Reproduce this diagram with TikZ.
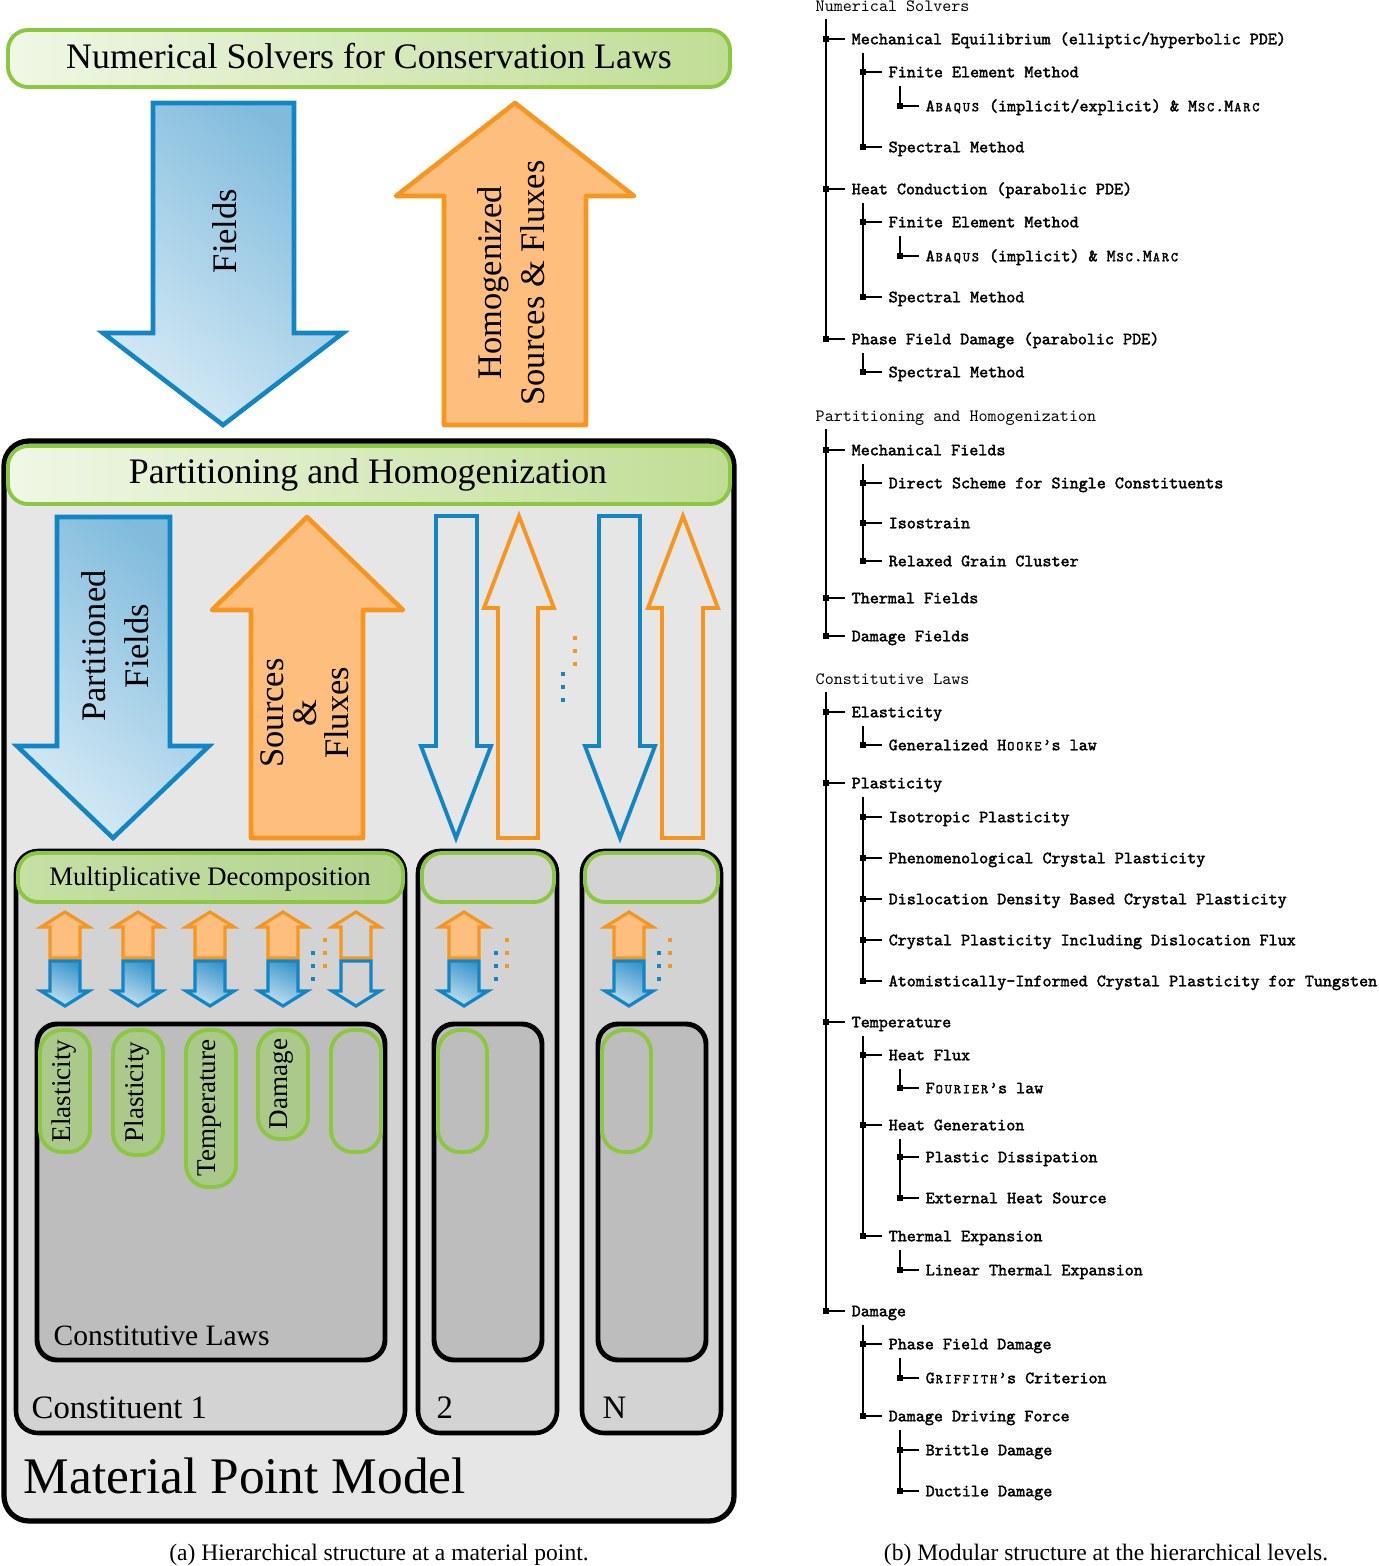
\documentclass[tikz,border=0pt]{standalone}
\usepackage{fontspec}
\setmainfont{Liberation Serif}
\newfontfamily\trbold{lmmono10-regular}[Extension=.otf, FakeBold=2]
\newfontfamily\trreg{lmmono10-regular}[Extension=.otf]
\usepackage{graphicx}
\definecolor{gline}{RGB}{141,198,63}
\definecolor{bnL}{RGB}{240,247,230}
\definecolor{bnR}{RGB}{192,221,148}
\definecolor{mdL}{RGB}{198,224,165}
\definecolor{mdR}{RGB}{178,211,140}
\definecolor{bline}{RGB}{18,134,196}
\definecolor{bD}{RGB}{128,187,220}
\definecolor{bL}{RGB}{212,233,245}
\definecolor{sbD}{RGB}{55,148,204}
\definecolor{sbL}{RGB}{196,225,240}
\definecolor{oline}{RGB}{247,150,30}
\definecolor{ofill}{RGB}{253,190,126}
\definecolor{gA}{RGB}{230,230,230}
\definecolor{gB}{RGB}{211,211,211}
\definecolor{gC}{RGB}{189,189,189}
\definecolor{pillc}{RGB}{170,201,138}
\newcommand\smc[1]{\makebox[0.525em]{\scalebox{0.78}{#1}}}
\newcommand\trit[4]{%
  \coordinate (#1-l) at (#2,#3);
  \coordinate (#1-d) at (#2+37,#3+14);
  \node[tritem] (#1) at (#2+19,#3) {#4};
  \draw[trline] (#1-l) -- (#1.west);
  \fill (#2-3,#3-3) rectangle (#2+3,#3+3);
}
\newcommand\trhead[3]{%
  \node[trhd] (#1) at (815,#2) {#3};
  \coordinate (#1-d) at (826,#2+13);
}
\newcommand\sarrows[3]{%
  \draw[sorange,#2] (#1,912) -- (#1+24,927) -- (#1+15,927) -- (#1+15,958) -- (#1-15,958) -- (#1-15,927) -- (#1-24,927) -- cycle;
  \draw[sblue,#3] (#1-15,961) -- (#1+15,961) -- (#1+15,991) -- (#1+24,991) -- (#1,1006) -- (#1-24,991) -- (#1-15,991) -- cycle;
}
\newcommand\dotcol[3]{\foreach \yy in {#3,#3+13,#3+26}{\fill[#1] (#2-2,\yy-2) rectangle (#2+2,\yy+2);}}
\tikzset{
  trline/.style={line width=0.5pt},
  tritem/.style={anchor=west, inner xsep=0.06cm, inner ysep=0pt, text height=3pt, text depth=0pt,
    font=\trbold\fontsize{4.9}{5.5}\selectfont},
  trhd/.style={anchor=west, inner sep=0pt, text height=3pt, text depth=0pt,
    font=\trreg\fontsize{4.9}{5.5}\selectfont},
  banner/.style={draw=gline, line width=1.1pt, rounded corners=0.2cm, left color=bnL, right color=bnR},
  mdbanner/.style={draw=gline, line width=1.1pt, rounded corners=0.2cm, left color=mdL, right color=mdR},
  ebanner/.style={draw=gline, line width=1.1pt, rounded corners=0.2cm},
  bigblue/.style={draw=bline, line width=1.3pt, line join=miter, top color=bD, bottom color=bL, shading angle=-40},
  bigorange/.style={draw=oline, line width=1.3pt, line join=round, fill=ofill},
  oblue/.style={draw=bline, line width=1.1pt},
  oorange/.style={draw=oline, line width=1.1pt},
  sorange/.style={draw=oline, line width=0.9pt},
  sblue/.style={draw=bline, line width=0.9pt},
  sofill/.style={fill=ofill},
  sbfill/.style={top color=sbD, bottom color=sbL, shading angle=-25},
  nofill/.style={},
  constbox/.style={draw=black, line width=1.3pt, fill=gB, rounded corners=0.22cm},
  lawbox/.style={draw=black, line width=1.4pt, fill=gC, rounded corners=0.2cm},
  pillbox/.style={draw=gline, line width=1.1pt, rounded corners=0.22cm},
  hdtxt/.style={font=\fontsize{10.2}{12}\selectfont, inner sep=0pt},
  arrtxt/.style={rotate=90, align=center, inner sep=0pt, font=\fontsize{9.8}{12.3}\selectfont},
  pilltxt/.style={rotate=90, inner sep=0pt, font=\fontsize{7.7}{9}\selectfont},
  captxt/.style={anchor=base, inner sep=0pt, font=\fontsize{6.7}{8}\selectfont}
}
\begin{document}
\begin{tikzpicture}[x=0.01cm, y=-0.01cm]
\useasboundingbox (0,0) rectangle (1378,1566);

% ---------- top level ----------
\draw[banner] (8,30) rectangle (730,87);
\node[hdtxt, anchor=base] (nsl) at (369,68) {Numerical Solvers for Conservation Laws};

\draw[bigblue] (153,103) -- (294,103) -- (294,333) -- (343,333) -- (223,425) -- (103,333) -- (153,333) -- cycle;
\node[arrtxt] (fld) at (225,231) {Fields};

\draw[bigorange] (515,103) -- (634,196) -- (586,196) -- (586,425) -- (444,425) -- (444,196) -- (396,196) -- cycle;
\node[arrtxt] (hsf) at (511,283) {Homogenized\\Sources \& Fluxes};

% ---------- material point ----------
\draw[draw=black, line width=1.5pt, fill=gA, rounded corners=0.25cm] (4,441) rectangle (734,1521);
\draw[banner] (8,446) rectangle (730,504);
\node[hdtxt, anchor=base] (pah) at (368,483) {Partitioning and Homogenization};

\draw[bigblue] (57,517) -- (170,517) -- (170,746) -- (209,746) -- (113,838) -- (17,746) -- (57,746) -- cycle;
\node[arrtxt] (pfl) at (115,646) {Partitioned\\Fields};

\draw[bigorange] (307,517) -- (403,610) -- (363,610) -- (363,838) -- (251,838) -- (251,610) -- (212,610) -- cycle;
\node[arrtxt, font=\fontsize{9.8}{9.3}\selectfont] (sfl) at (305,713) {Sources\\\&\\Fluxes};

% outline arrows
\draw[oblue] (436,516) -- (477,516) -- (477,746) -- (491,746) -- (456,838) -- (421,746) -- (436,746) -- cycle;
\draw[oorange] (519,516) -- (554,608) -- (538,608) -- (538,838) -- (498,838) -- (498,608) -- (484,608) -- cycle;
\draw[oblue] (599,516) -- (640,516) -- (640,746) -- (655,746) -- (620,838) -- (585,746) -- (599,746) -- cycle;
\draw[oorange] (683,516) -- (718,608) -- (703,608) -- (703,838) -- (662,838) -- (662,608) -- (648,608) -- cycle;
\dotcol{oline}{575}{638}
\dotcol{bline}{563}{674}

% ---------- constituents ----------
\draw[constbox] (16,851) rectangle (405,1433);
\draw[constbox] (418,851) rectangle (557,1433);
\draw[constbox] (582,851) rectangle (721,1433);

\draw[mdbanner] (18,853) rectangle (403,902);
\node[font=\fontsize{7.6}{9}\selectfont, anchor=base, inner sep=0pt] (mdc) at (210,885) {Multiplicative Decomposition};
\draw[ebanner] (422,853) rectangle (554,902);
\draw[ebanner] (585,853) rectangle (718,902);

\sarrows{65}{sofill}{sbfill}
\sarrows{138}{sofill}{sbfill}
\sarrows{210}{sofill}{sbfill}
\sarrows{283}{sofill}{sbfill}
\sarrows{356}{nofill}{nofill}
\sarrows{464}{sofill}{sbfill}
\sarrows{629}{sofill}{sbfill}
\dotcol{bline}{313}{953}
\dotcol{oline}{325}{940}
\dotcol{bline}{496}{953}
\dotcol{oline}{507}{940}
\dotcol{bline}{659}{953}
\dotcol{oline}{670}{940}

% constitutive laws
\draw[lawbox] (37,1024) rectangle (385,1360);
\draw[lawbox] (434,1024) rectangle (542,1360);
\draw[lawbox] (598,1024) rectangle (706,1360);

\draw[pillbox, fill=pillc] (40,1030) rectangle (90,1152);
\draw[pillbox, fill=pillc] (113,1030) rectangle (163,1155);
\draw[pillbox, fill=pillc] (186,1030) rectangle (236,1187);
\draw[pillbox, fill=pillc] (258,1030) rectangle (308,1139);
\draw[pillbox] (331,1030) rectangle (381,1152);
\draw[pillbox] (438,1030) rectangle (487,1152);
\draw[pillbox] (602,1030) rectangle (651,1152);

\node[pilltxt] (pel) at (64,1091) {Elasticity};
\node[pilltxt] (ppl) at (137,1092) {Plasticity};
\node[pilltxt] (pte) at (210,1108) {Temperature};
\node[pilltxt] (pda) at (282,1084) {Damage};

\node[font=\fontsize{8.4}{10}\selectfont, anchor=base west, inner sep=0pt] (clw) at (53,1345) {Constitutive Laws};
\node[font=\fontsize{9.3}{11}\selectfont, anchor=base west, inner sep=0pt] (co1) at (31,1418) {Constituent 1};
\node[font=\fontsize{9.3}{11}\selectfont, anchor=base west, inner sep=0pt] (co2) at (436,1418) {2};
\node[font=\fontsize{9.3}{11}\selectfont, anchor=base west, inner sep=0pt] (coN) at (602,1418) {N};
\node[font=\fontsize{14.6}{17}\selectfont, anchor=base west, inner sep=0pt] (mpm) at (23,1493) {Material Point Model};

\node[captxt] (capa) at (379,1560) {(a) Hierarchical structure at a material point.};
\node[captxt] (capb) at (1106,1560) {(b) Modular structure at the hierarchical levels.};

% ---------- tree ----------
\trhead{hs1}{6}{Numerical Solvers}
\trit{a1}{826}{39}{Mechanical Equilibrium (elliptic/hyperbolic PDE)}
\trit{a11}{863}{72}{Finite Element Method}
\trit{a111}{900}{106}{A\smc{B}\smc{A}\smc{Q}\smc{U}\smc{S} (implicit/explicit) \& M\smc{S}\smc{C}.M\smc{A}\smc{R}\smc{C}}
\trit{a12}{863}{147}{Spectral Method}
\trit{a2}{826}{189}{Heat Conduction (parabolic PDE)}
\trit{a21}{863}{222}{Finite Element Method}
\trit{a211}{900}{256}{A\smc{B}\smc{A}\smc{Q}\smc{U}\smc{S} (implicit) \& M\smc{S}\smc{C}.M\smc{A}\smc{R}\smc{C}}
\trit{a22}{863}{297}{Spectral Method}
\trit{a3}{826}{339}{Phase Field Damage (parabolic PDE)}
\trit{a31}{863}{372}{Spectral Method}
\draw[trline] (hs1-d) -- (a3-l);
\draw[trline] (a1-d) -- (a12-l);
\draw[trline] (a11-d) -- (a111-l);
\draw[trline] (a2-d) -- (a22-l);
\draw[trline] (a21-d) -- (a211-l);
\draw[trline] (a3-d) -- (a31-l);

\trhead{hs2}{416}{Partitioning and Homogenization}
\trit{b1}{826}{450}{Mechanical Fields}
\trit{b11}{863}{483}{Direct Scheme for Single Constituents}
\trit{b12}{863}{523}{Isostrain}
\trit{b13}{863}{561}{Relaxed Grain Cluster}
\trit{b2}{826}{598}{Thermal Fields}
\trit{b3}{826}{636}{Damage Fields}
\draw[trline] (hs2-d) -- (b3-l);
\draw[trline] (b1-d) -- (b13-l);

\trhead{hs3}{679}{Constitutive Laws}
\trit{c1}{826}{712}{Elasticity}
\trit{c11}{863}{745}{Generalized H\smc{O}\smc{O}\smc{K}\smc{E}’s law}
\trit{c2}{826}{783}{Plasticity}
\trit{c21}{863}{817}{Isotropic Plasticity}
\trit{c22}{863}{858}{Phenomenological Crystal Plasticity}
\trit{c23}{863}{899}{Dislocation Density Based Crystal Plasticity}
\trit{c24}{863}{940}{Crystal Plasticity Including Dislocation Flux}
\trit{c25}{863}{981}{Atomistically-Informed Crystal Plasticity for Tungsten}
\trit{c3}{826}{1022}{Temperature}
\trit{c31}{863}{1055}{Heat Flux}
\trit{c311}{900}{1088}{F\smc{O}\smc{U}\smc{R}\smc{I}\smc{E}\smc{R}’s law}
\trit{c32}{863}{1125}{Heat Generation}
\trit{c321}{900}{1157}{Plastic Dissipation}
\trit{c322}{900}{1198}{External Heat Source}
\trit{c33}{863}{1236}{Thermal Expansion}
\trit{c331}{900}{1270}{Linear Thermal Expansion}
\trit{c4}{826}{1311}{Damage}
\trit{c41}{863}{1344}{Phase Field Damage}
\trit{c411}{900}{1378}{G\smc{R}\smc{I}\smc{F}\smc{F}\smc{I}\smc{T}\smc{H}’s Criterion}
\trit{c42}{863}{1416}{Damage Driving Force}
\trit{c421}{900}{1450}{Brittle Damage}
\trit{c422}{900}{1491}{Ductile Damage}
\draw[trline] (hs3-d) -- (c4-l);
\draw[trline] (c1-d) -- (c11-l);
\draw[trline] (c2-d) -- (c25-l);
\draw[trline] (c3-d) -- (c33-l);
\draw[trline] (c31-d) -- (c311-l);
\draw[trline] (c32-d) -- (c322-l);
\draw[trline] (c33-d) -- (c331-l);
\draw[trline] (c4-d) -- (c42-l);
\draw[trline] (c41-d) -- (c411-l);
\draw[trline] (c42-d) -- (c422-l);
\end{tikzpicture}
\end{document}
